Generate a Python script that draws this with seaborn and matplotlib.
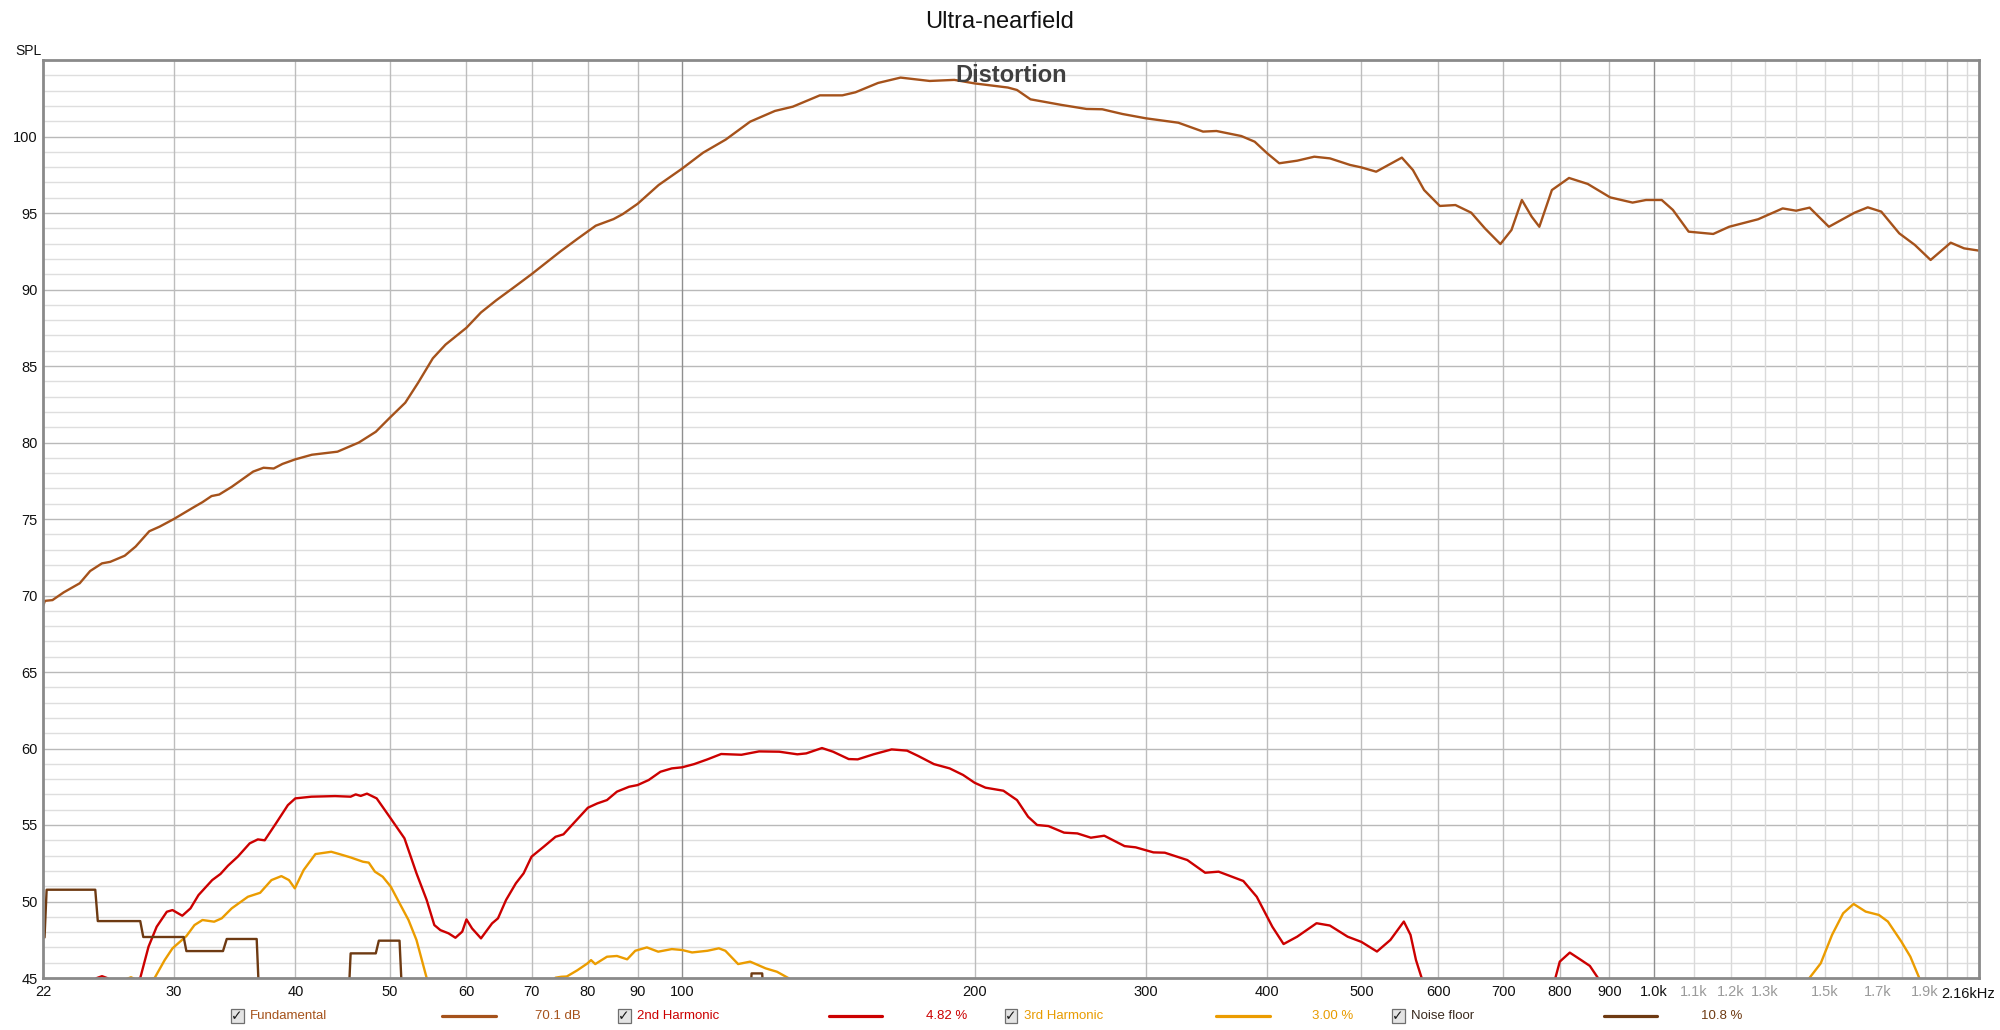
import numpy as np
import pandas as pd
import matplotlib.pyplot as plt
import seaborn as sns
from matplotlib.lines import Line2D
from matplotlib.patches import Rectangle
from matplotlib.ticker import NullLocator

# Dane (częstotliwość w Hz, poziom w dB SPL)
fund_f = [22.0, 22.1, 22.5, 23.1, 24.0, 24.6, 25.3, 25.8, 26.7, 27.4, 28.3, 29.0, 30.0,
          31.5, 32.1, 32.8, 33.4, 34.4, 36.2, 37.1, 38.0, 38.8, 40.0, 41.6, 44.2, 46.5,
          48.4, 50.0, 51.9, 53.5, 55.4, 57.1, 60.0, 62.1, 64.4, 67.0, 70.0, 75.0, 78.0,
          81.5, 85.0, 86.9, 90.0, 94.6, 100, 105.1, 110.9, 117.5, 124.6, 130, 138.6,
          146.2, 150.8, 159.1, 167.8, 179.8, 190.6, 200, 216.4, 221.1, 228.3, 245.9,
          260.7, 270.6, 283.9, 300, 324.1, 343.6, 354.7, 376.2, 388.3, 400, 411.6, 429.5,
          447.2, 464.1, 486.8, 500, 517.8, 550.3, 564.9, 580.1, 602.1, 624.8, 648.6,
          669.9, 695, 713.5, 731.3, 748.5, 762.2, 785.2, 817.7, 854.8, 901.5, 950.6,
          981.3, 1018.6, 1045.9, 1085.7, 1150.8, 1195, 1279.7, 1356.6, 1400.6, 1446,
          1513.6, 1608.5, 1659.6, 1713.5, 1788.1, 1855.6, 1926, 2020, 2085, 2160]
fund_db = [69.3, 69.65, 69.7, 70.2, 70.8, 71.6, 72.1, 72.2, 72.6, 73.2, 74.2, 74.5, 75.0,
           75.8, 76.1, 76.5, 76.6, 77.1, 78.1, 78.35, 78.3, 78.6, 78.9, 79.2, 79.4, 80.0,
           80.7, 81.6, 82.6, 83.9, 85.5, 86.4, 87.5, 88.5, 89.3, 90.1, 91.0, 92.5, 93.3,
           94.17, 94.6, 94.93, 95.6, 96.83, 97.9, 98.94, 99.8, 100.97, 101.67, 101.95, 102.69,
           102.69, 102.89, 103.5, 103.85, 103.63, 103.7, 103.47, 103.2, 103.04, 102.43, 102.06,
           101.8, 101.78, 101.47, 101.19, 100.9, 100.32, 100.36, 100.03, 99.66, 98.9, 98.25, 98.42,
           98.68, 98.57, 98.14, 97.98, 97.7, 98.62, 97.81, 96.5, 95.46, 95.52, 95.02,
           94.0, 92.97, 93.89, 95.85, 94.76, 94.1, 96.5, 97.29, 96.9, 96.02, 95.68,
           95.85, 95.85, 95.2, 93.78, 93.63, 94.1, 94.59, 95.3, 95.15, 95.35,
           94.1, 95.02, 95.37, 95.09, 93.67, 92.91, 91.93, 93.06, 92.69, 92.54]

h2_f = [22.0, 24.5, 25.0, 25.3, 25.6, 26.5, 27.7, 28.25, 28.8, 29.5, 29.9, 30.6, 31.2, 31.8,
        32.85, 33.5, 34.1, 34.9, 35.9, 36.6, 37.2, 38.2, 39.3, 40.0, 41.55, 43.95, 45.6, 46.15,
        46.7, 47.4, 48.5, 50.0, 51.8, 53.3, 54.6, 55.6, 56.4, 57.5, 58.45, 59.4, 60.0, 60.8,
        62.1, 63.75, 64.65, 65.9, 67.45, 68.7, 70.0, 72.05, 74.1, 75.5, 77.3, 80.0, 81.8, 83.7,
        85.7, 88.2, 90.0, 92.4, 95.0, 97.6, 100, 102.9, 106.2, 109.7, 115.1, 120.0, 125.9,
        131.4, 134.2, 139.3, 143.0, 148.4, 151.6, 157.4, 164.3, 170.4, 175.0, 181.6, 188.5,
        194.6, 200, 205.2, 214.1, 221.1, 227, 231.9, 238.2, 247.2, 255.1, 263.4, 271.9, 285.3,
        292.9, 305.5, 313.8, 331.0, 345.3, 356.5, 378, 390.2, 404.9, 415.8, 429.4, 449.6, 464,
        484, 500, 518.8, 535.6, 552.9, 561.7, 569, 576.9, 600, 700, 780, 791.7, 800, 819.2,
        841.2, 859.1, 875.8, 900, 1200, 2160]
h2_db = [44.0, 44.6, 45.0, 45.12, 45.0, 44.4, 45.0, 47.05, 48.35, 49.33, 49.44, 49.07, 49.55,
         50.42, 51.4, 51.8, 52.34, 52.93, 53.8, 54.06, 54.0, 55.1, 56.3, 56.74, 56.85, 56.89,
         56.85, 57.0, 56.9, 57.05, 56.74, 55.54, 54.13, 51.84, 50.1, 48.46, 48.13, 47.92, 47.63,
         48.03, 48.83, 48.24, 47.59, 48.57, 48.9, 50.1, 51.19, 51.84, 52.93, 53.58, 54.23, 54.39,
         55.1, 56.13, 56.41, 56.63, 57.18, 57.5, 57.61, 57.94, 58.48, 58.7, 58.77, 58.98, 59.29,
         59.64, 59.59, 59.81, 59.79, 59.62, 59.68, 60.03, 59.79, 59.31, 59.29, 59.62, 59.94,
         59.86, 59.51, 58.98, 58.7, 58.27, 57.76, 57.44, 57.24, 56.63, 55.54, 55.0, 54.93, 54.5,
         54.45, 54.17, 54.3, 53.62, 53.54, 53.21, 53.19, 52.71, 51.88, 51.95, 51.34, 50.31,
         48.35, 47.22, 47.7, 48.58, 48.43, 47.7, 47.36, 46.73, 47.49, 48.69, 47.82, 46.18,
         44.98, 43.5, 43.0, 44.0, 45.0, 46.07, 46.66, 46.18, 45.79, 45.0, 43.5, 42.0, 42.0]

h3_f = [22.0, 26.5, 27.1, 27.6, 28.66, 29.35, 29.9, 30.9, 31.5, 32.1, 33.0, 33.6, 34.4, 35.75,
        36.8, 37.8, 38.7, 39.4, 39.95, 40.8, 41.95, 43.55, 44.4, 45.6, 46.95, 47.6, 48.3, 49.2,
        50.15, 51.1, 52.3, 53.3, 54.6, 56, 65, 73.5, 74.1, 75.1, 76.1, 78.0, 79.9, 80.6, 81.4,
        83.7, 85.7, 87.8, 89.5, 92.0, 94.5, 97.6, 100, 102.4, 106.2, 109.1, 110.8, 114.2,
        117.5, 121.9, 125.2, 128.6, 132, 300, 1000, 1420, 1445.4, 1484.6, 1525, 1565.6,
        1604.8, 1651.3, 1704, 1740.6, 1797, 1835.6, 1875, 1900, 2160]
h3_db = [44.0, 44.8, 45.05, 44.8, 45.0, 46.17, 46.94, 47.74, 48.46, 48.79, 48.68, 48.9, 49.55,
         50.31, 50.57, 51.4, 51.66, 51.4, 50.86, 52.06, 53.1, 53.25, 53.1, 52.88, 52.6, 52.54,
         51.95, 51.62, 50.97, 49.99, 48.79, 47.48, 45.0, 44.0, 43.5, 44.5, 45.02, 45.08, 45.1,
         45.5, 45.95, 46.17, 45.91, 46.39, 46.44, 46.22, 46.78, 47.0, 46.72, 46.89, 46.83, 46.67,
         46.78, 46.94, 46.78, 45.91, 46.07, 45.63, 45.41, 45.0, 44.5, 43.0, 43.0, 44.0, 45.0,
         45.96, 47.82, 49.23, 49.84, 49.34, 49.12, 48.69, 47.38, 46.4, 45.0, 44.0, 43.0]

nf_f = [22.0, 22.08, 22.19, 24.9, 25.05, 27.7, 27.9, 30.7, 30.9, 33.7, 34.0, 36.5, 36.7,
        45.4, 45.6, 48.4, 48.75, 51.2, 51.5, 60, 117.6, 117.9, 120.9, 121.2, 200, 2160]
nf_db = [47.65, 47.65, 50.77, 50.77, 48.72, 48.72, 47.68, 47.68, 46.76, 46.76, 47.55, 47.55,
         44.0, 44.0, 46.61, 46.61, 47.44, 47.44, 44.0, 44.0, 44.0, 45.3, 45.3, 44.0, 44.0, 44.0]

series_names = ['Fundamental', '2nd Harmonic', '3rd Harmonic', 'Noise floor']
series_values = ['70.1 dB', '4.82 %', '3.00 %', '10.8 %']
kolory = {'Fundamental': '#a5521b', '2nd Harmonic': '#cc0000',
          '3rd Harmonic': '#eb9c00', 'Noise floor': '#6e3a12'}

x_ticks = [22, 30, 40, 50, 60, 70, 80, 90, 100, 200, 300, 400, 500, 600, 700, 800, 900,
           1000, 1100, 1200, 1300, 1500, 1700, 1900]
x_tick_labels = ['22', '30', '40', '50', '60', '70', '80', '90', '100', '200', '300', '400',
                 '500', '600', '700', '800', '900', '1.0k', '1.1k', '1.2k', '1.3k', '1.5k',
                 '1.7k', '1.9k']
y_ticks = [45, 50, 55, 60, 65, 70, 75, 80, 85, 90, 95, 100]

# Tabela w formacie długim dla seaborn
frames = []
for name, f, db in zip(series_names, [fund_f, h2_f, h3_f, nf_f], [fund_db, h2_db, h3_db, nf_db]):
    frames.append(pd.DataFrame({'freq': f, 'spl': db, 'series': name}))
df = pd.concat(frames, ignore_index=True)

sns.set_theme(style='white')
plt.rcParams['font.family'] = ['Liberation Sans', 'DejaVu Sans']

W, H = 2000, 1030
fig = plt.figure(figsize=(W / 100, H / 100), dpi=100)
ax = fig.add_axes([43 / W, 1 - 978 / H, (1979 - 43) / W, (978 - 60) / H])
ax.set_xscale('log')

# Siatka: co 1 dB jasna, co 5 dB ciemniejsza
for v in range(46, 105):
    c = '#b9b9b9' if v % 5 == 0 else '#dedede'
    ax.axhline(v, color=c, lw=1.0, zorder=0)
grid_f = [30, 40, 50, 60, 70, 80, 90, 100, 200, 300, 400, 500, 600, 700, 800, 900, 1000,
          1100, 1200, 1300, 1400, 1500, 1600, 1700, 1800, 1900, 2000, 2100]
for f in grid_f:
    if f in (100, 1000):
        c = '#8f8f8f'
    elif f > 1000 and f != 2000:
        c = '#dadada'
    else:
        c = '#bdbdbd'
    ax.axvline(f, color=c, lw=1.0, zorder=0)

sns.lineplot(data=df, x='freq', y='spl', hue='series', hue_order=series_names,
             palette=kolory, estimator=None, sort=False, legend=False, lw=1.7, ax=ax)

ax.set_xlim(22, 2160)
ax.set_ylim(45, 105)
ax.xaxis.set_minor_locator(NullLocator())
ax.set_xticks(x_ticks)
ax.set_xticklabels(x_tick_labels)
ax.set_yticks(y_ticks)
ax.set_yticklabels([str(v) for v in y_ticks])
ax.tick_params(axis='both', length=0, labelsize=10.5, colors='#111111')
ax.tick_params(axis='x', pad=5)
ax.tick_params(axis='y', pad=4)
for lab in ax.get_xticklabels():
    if lab.get_text() in ('1.1k', '1.2k', '1.3k', '1.5k', '1.7k', '1.9k'):
        lab.set_color('#9a9a9a')
ax.set_xlabel('')
ax.set_ylabel('')
for s in ax.spines.values():
    s.set_color('#8a8a8a')
    s.set_linewidth(2.0)

ax.text(1.0085, -0.017, '2.16kHz', transform=ax.transAxes, ha='right', va='center',
        fontsize=10.5, color='#111111')
fig.text(1011 / W, 1 - 76 / H, 'Distortion', ha='center', va='center', fontsize=17,
         fontweight='bold', color='#404040')

fig.text(0.5, 1 - 22 / H, 'Ultra-nearfield', ha='center', va='center', fontsize=17, color='#111111')
fig.text(28 / W, 1 - 51 / H, 'SPL', ha='center', va='center', fontsize=10, color='#111111')

# Legenda na dole (pola wyboru, nazwa, linia, wartość)
leg_y = 1 - 1016 / H
box_x = [237, 624, 1011, 1398]
line_x = [(442, 496), (829, 882), (1216, 1270), (1604, 1657)]
val_x = [558, 947, 1333, 1722]
name_colors = ['#a5521b', '#cc0000', '#e89b00', '#3a2a1e']
for name, val, bx, (l0, l1), vx, nc in zip(series_names, series_values, box_x, line_x, val_x, name_colors):
    fig.add_artist(Rectangle(((bx - 6.5) / W, leg_y - 7 / H), 13 / W, 14 / H,
                             transform=fig.transFigure, facecolor='#e4e4e4',
                             edgecolor='#6f6f6f', lw=0.9))
    fig.text(bx / W, leg_y, '✓', ha='center', va='center', fontsize=10, fontweight='bold',
             color='#1a1a1a', family='DejaVu Sans')
    fig.text((bx + 13) / W, leg_y, name, ha='left', va='center', fontsize=9.5, color=nc)
    fig.add_artist(Line2D([l0 / W, l1 / W], [leg_y, leg_y], color=kolory[name], lw=2.3,
                          transform=fig.transFigure))
    vc = '#6e3a12' if name == 'Noise floor' else nc
    fig.text(vx / W, leg_y, val, ha='center', va='center', fontsize=9.5, color=vc)

plt.savefig('out.png', dpi=100)
